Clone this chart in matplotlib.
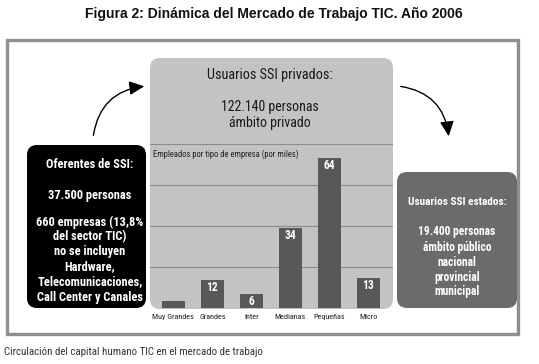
import matplotlib
matplotlib.use("Agg")
import matplotlib.pyplot as plt
from matplotlib.patches import FancyBboxPatch, Rectangle, FancyArrowPatch
from matplotlib import font_manager

# ---------------- data ----------------
categories = ["Muy Grandes", "Grandes", "Inter", "Medianas", "Pequeñas", "Micro"]
values = [3, 12, 6, 34, 64, 13]
value_labels = ["", "12", "6", "34", "64", "13"]
grid_levels = [17.5, 35, 52.5]

title = "Figura 2: Dinámica del Mercado de Trabajo TIC. Año 2006"
caption = "Circulación del capital humano TIC en el mercado de trabajo"
center_head = "Usuarios SSI privados:"
center_body = ["122.140 personas", "ámbito privado"]
chart_label = "Empleados por tipo de empresa (por miles)"
left_head = "Oferentes de SSI:"
left_l2 = "37.500 personas"
left_body = ["660 empresas (13,8%", "del sector TIC)", "no se incluyen", "Hardware,",
             "Telecomunicaciones,", "Call Center y Canales"]
right_head = "Usuarios SSI estados:"
right_body = ["19.400 personas", "ámbito público", "nacional", "provincial", "municipal"]

# ---------------- fonts ----------------
entries = font_manager.fontManager.ttflist
names = {f.name for f in entries}


def pick_narrow():
    for n in ["Liberation Sans Narrow", "Roboto Condensed", "Open Sans Condensed",
              "Noto Sans Condensed", "DejaVu Sans Condensed"]:
        if n in names:
            return dict(family=n), 1.0
    for n in ["Noto Sans", "Open Sans", "DejaVu Sans", "Roboto"]:
        for f in entries:
            if f.name == n and str(f.stretch) in ("condensed", "semi-condensed",
                                                  "extra-condensed", "75", "87.5", "62.5"):
                return dict(family=n, stretch=f.stretch), 1.0
    if "Roboto" in names:
        return dict(family="Roboto"), 0.9
    return dict(family="DejaVu Sans"), 0.8


NARROW, SCALE = pick_narrow()
TITLEF = dict(family="Liberation Sans" if "Liberation Sans" in names else "DejaVu Sans")

W, H = 539, 364
fig = plt.figure(figsize=(W / 100, H / 100), dpi=100)
fig.patch.set_facecolor("white")

ax0 = fig.add_axes([0, 0, 1, 1])
ax0.set_xlim(0, W)
ax0.set_ylim(H, 0)
ax0.axis("off")


def txt(x, y, s, size, **kw):
    ax0.text(x, y, s, ha=kw.pop("ha", "center"), va="center", fontsize=size * SCALE,
             zorder=3, **NARROW, **kw)


# title
ax0.text(274, 14, title, ha="center", va="center", fontsize=10, fontweight="bold",
         color="#111111", **TITLEF)

# outer frame
ax0.add_patch(Rectangle((6.5, 39.5), 511, 294, fill=False, edgecolor="#8e8e8e", lw=2.4))

# central gray panel
ax0.add_patch(FancyBboxPatch((160, 68), 223, 231,
                             boxstyle="round,pad=10,rounding_size=10",
                             facecolor="#c3c3c3", edgecolor="none", zorder=1))
txt(270, 75, center_head, 10.3, color="#1a1a1a")
for i, line in enumerate(center_body):
    txt(270, 107 + 16 * i, line, 10.0, color="#1a1a1a")
txt(153, 154, chart_label, 6.2, color="#222222", ha="left")

# left black box
ax0.add_patch(FancyBboxPatch((37, 155), 99, 143,
                             boxstyle="round,pad=10,rounding_size=10",
                             facecolor="black", edgecolor="none", zorder=1))
txt(90, 165, left_head, 8.9, fontweight="bold", color="white")
txt(90, 195, left_l2, 8.9, fontweight="bold", color="white")
for i, line in enumerate(left_body):
    txt(90, 222 + 15 * i, line, 8.9, fontweight="bold", color="white")

# right dark gray box
ax0.add_patch(FancyBboxPatch((407, 182), 100, 116,
                             boxstyle="round,pad=10,rounding_size=10",
                             facecolor="#6b6b6b", edgecolor="none", zorder=1))
txt(457, 202, right_head, 8.1, fontweight="bold", color="white")
for i, line in enumerate(right_body):
    txt(457, 232 + 15 * i, line, 8.3, fontweight="bold", color="white")

# arrows
ax0.add_patch(FancyArrowPatch((93, 138), (147, 86), connectionstyle="arc3,rad=-0.4",
                              arrowstyle="-|>,head_length=0.75,head_width=0.35",
                              mutation_scale=12, color="black", lw=1.0, zorder=3))
ax0.add_patch(FancyArrowPatch((398, 86), (449, 139), connectionstyle="arc3,rad=-0.4",
                              arrowstyle="-|>,head_length=0.75,head_width=0.35",
                              mutation_scale=12, color="black", lw=1.0, zorder=3))

# caption
txt(4, 352, caption, 7.8, color="#333333", ha="left")

# ---------------- bar chart ----------------
left_px, right_px, top_px, base_px = 150, 393, 144, 308
ax = fig.add_axes([left_px / W, (H - base_px) / H, (right_px - left_px) / W,
                   (base_px - top_px) / H])
ax.set_zorder(2)
ax.patch.set_alpha(0)
x = list(range(len(categories)))
ax.bar(x, values, width=0.59, color="#585858", zorder=2)
ax.set_xlim(-0.6, 5.63)
ax.set_ylim(0, 70)
for g in grid_levels:
    ax.axhline(g, color="#8c8c8c", lw=0.8, zorder=1)
ax.axhline(70, color="#8c8c8c", lw=0.8, zorder=1)
for xi, v, lab in zip(x, values, value_labels):
    if lab:
        ax.annotate(lab, (xi, v), xytext=(0, -5.5), textcoords="offset points",
                    ha="center", va="center", fontsize=8.3 * SCALE, fontweight="bold",
                    color="white", **NARROW, zorder=3)
for s in ax.spines.values():
    s.set_visible(False)
ax.set_yticks([])
ax.set_xticks(x)
ax.set_xticklabels(categories, fontsize=5.9 * SCALE, color="#222222", **NARROW)
ax.tick_params(axis="x", length=0, pad=4)

fig.savefig("out.png", dpi=100, facecolor="white")
